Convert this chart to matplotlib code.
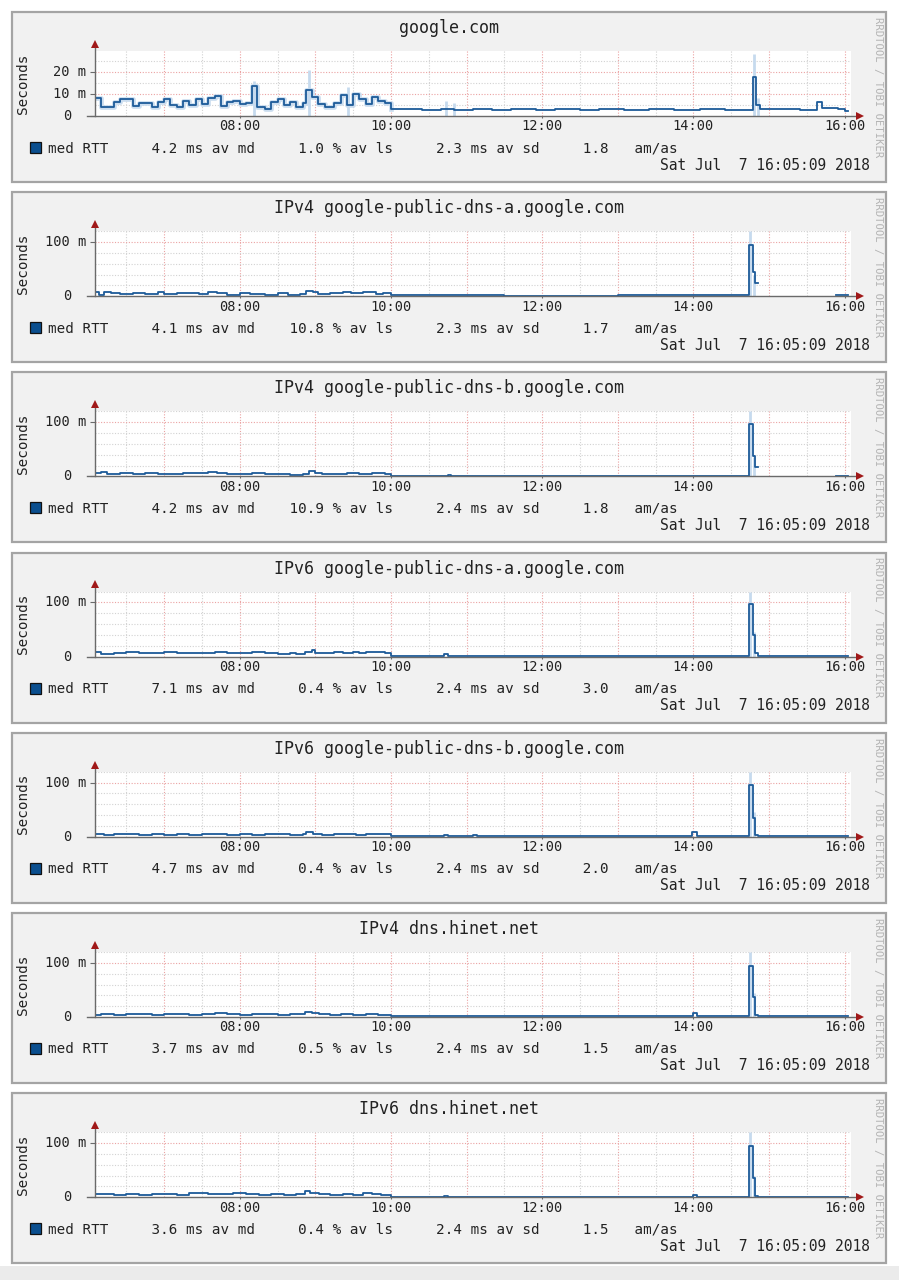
import matplotlib
matplotlib.use('Agg')
import matplotlib.pyplot as plt
from matplotlib.patches import Rectangle
from matplotlib.transforms import blended_transform_factory
import numpy as np

nan = float('nan')
W, H = 899, 1280
MONO = 'DejaVu Sans Mono'

titles = ["google.com",
          "IPv4 google-public-dns-a.google.com",
          "IPv4 google-public-dns-b.google.com",
          "IPv6 google-public-dns-a.google.com",
          "IPv6 google-public-dns-b.google.com",
          "IPv4 dns.hinet.net",
          "IPv6 dns.hinet.net"]

# legend statistics: av md (ms), av ls (%), av sd (ms), am/as
av_md = ["4.2", "4.1", "4.2", "7.1", "4.7", "3.7", "3.6"]
av_ls = ["1.0", "10.8", "10.9", "0.4", "0.4", "0.5", "0.4"]
av_sd = ["2.3", "2.3", "2.4", "2.4", "2.4", "2.4", "2.4"]
am_as = ["1.8", "1.7", "1.8", "3.0", "2.0", "1.5", "1.5"]

date_text = "Sat Jul  7 16:05:09 2018"
x_ticks = [8, 10, 12, 14, 16]
x_tick_labels = ["08:00", "10:00", "12:00", "14:00", "16:00"]
t_start, t_end = "06:05", "16:05"
t_last = "16:03"

# median RTT (ms), step changes: time -> value
p1_t = ["06:05", "06:10", "06:20", "06:25", "06:35", "06:40", "06:50", "06:55", "07:00", "07:05",
        "07:10", "07:15", "07:20", "07:25", "07:30", "07:35", "07:40", "07:45", "07:50", "07:55",
        "08:00", "08:05", "08:10", "08:14", "08:20", "08:25", "08:30", "08:35", "08:40", "08:45",
        "08:50", "08:53", "08:57", "09:02", "09:08", "09:15", "09:20", "09:25", "09:30", "09:35",
        "09:40", "09:45", "09:50", "09:55", "10:00", "10:25", "10:40", "10:50", "11:05", "11:20",
        "11:35", "11:55", "12:10", "12:30", "12:45", "13:05", "13:25", "13:45", "14:05", "14:25",
        "14:47", "14:50", "14:53", "15:10", "15:25", "15:38", "15:42", "15:55", "16:00"]
p1_v = [8.0, 4.0, 6.5, 7.5, 4.5, 6.0, 4.0, 6.5, 7.5, 5.0,
        4.0, 7.0, 5.0, 7.5, 5.5, 8.0, 9.0, 4.5, 6.5, 7.0,
        5.5, 6.0, 13.5, 4.0, 3.0, 6.5, 7.5, 5.0, 6.5, 4.0,
        6.0, 12.0, 8.5, 5.5, 4.0, 6.0, 9.5, 5.0, 10.0, 7.5,
        5.5, 8.5, 7.0, 6.0, 3.0, 2.8, 3.3, 2.9, 3.2, 2.8,
        3.1, 2.7, 3.0, 2.7, 3.1, 2.8, 3.0, 2.7, 3.0, 2.8,
        17.5, 5.0, 3.0, 3.2, 2.9, 6.5, 3.5, 3.0, 2.4]

p2_t = ["06:05", "06:08", "06:12", "06:18", "06:25", "06:35", "06:45", "06:55", "07:00", "07:10",
        "07:20", "07:28", "07:35", "07:42", "07:50", "08:00", "08:08", "08:20", "08:30", "08:38",
        "08:48", "08:53", "08:58", "09:02", "09:12", "09:22", "09:28", "09:38", "09:48", "09:54",
        "10:00", "11:30", "13:00", "14:44", "14:47", "14:49", "14:51", "15:53"]
p2_v = [7, 3, 7, 6, 4, 5, 4, 7, 4, 6,
        5, 4, 7, 5, 3, 6, 4, 3, 5, 3,
        4, 10, 7, 4, 6, 8, 5, 7, 4, 6,
        1.5, 1.2, 1.4, 95, 45, 25, nan, 1.5]

p3_t = ["06:05", "06:10", "06:15", "06:25", "06:35", "06:45", "06:55", "07:05", "07:15", "07:25",
        "07:35", "07:42", "07:50", "08:00", "08:10", "08:20", "08:30", "08:40", "08:50", "08:55",
        "09:00", "09:05", "09:15", "09:25", "09:35", "09:45", "09:55", "10:00", "10:45", "10:48",
        "14:44", "14:47", "14:49", "14:51", "15:53"]
p3_v = [6, 8, 5, 6, 4, 6, 5, 4, 6, 7,
        9, 6, 5, 4, 6, 5, 4, 3, 4, 10,
        7, 4, 5, 6, 4, 6, 5, 1.5, 3, 1.5,
        96, 37, 17, nan, 1.5]

p4_t = ["06:05", "06:10", "06:20", "06:30", "06:40", "06:50", "07:00", "07:10", "07:20", "07:30",
        "07:40", "07:50", "08:00", "08:10", "08:20", "08:30", "08:40", "08:45", "08:52", "08:57",
        "09:00", "09:05", "09:15", "09:22", "09:30", "09:35", "09:40", "09:48", "09:55", "10:00",
        "10:42", "10:45", "14:44", "14:47", "14:49", "14:51"]
p4_v = [8, 5, 7, 9, 7, 6, 8, 6, 7, 6,
        8, 7, 6, 8, 6, 5, 6, 5, 9, 12,
        7, 6, 8, 6, 9, 6, 8, 9, 7, 1.5,
        4, 1.5, 97, 40, 6, 1.5]

p5_t = ["06:05", "06:12", "06:20", "06:30", "06:40", "06:50", "07:00", "07:10", "07:20", "07:30",
        "07:40", "07:50", "08:00", "08:10", "08:20", "08:30", "08:40", "08:50", "08:53", "08:58",
        "09:05", "09:15", "09:25", "09:32", "09:40", "09:50", "10:00", "10:42", "10:45", "11:05",
        "11:08", "13:59", "14:03", "14:44", "14:47", "14:49", "14:51"]
p5_v = [5, 4, 6, 5, 4, 6, 4, 5, 4, 6,
        5, 4, 5, 4, 6, 5, 4, 5, 8, 6,
        4, 5, 6, 4, 6, 5, 1.5, 3, 1.5, 3,
        1.5, 8, 1.5, 95, 35, 4, 1.5]

p6_t = ["06:05", "06:10", "06:20", "06:30", "06:40", "06:50", "07:00", "07:10", "07:20", "07:30",
        "07:40", "07:50", "08:00", "08:10", "08:20", "08:30", "08:40", "08:52", "08:57", "09:03",
        "09:12", "09:20", "09:30", "09:40", "09:50", "10:00", "10:42", "10:45", "14:00", "14:03",
        "14:44", "14:47", "14:49", "14:51"]
p6_v = [4, 5, 4, 6, 5, 4, 5, 6, 4, 5,
        7, 5, 4, 6, 5, 4, 5, 10, 7, 5,
        4, 6, 4, 5, 4, 1.2, 2.5, 1.2, 7, 1.2,
        95, 37, 3, 1.2]

p7_t = ["06:05", "06:10", "06:20", "06:30", "06:40", "06:50", "07:00", "07:10", "07:20", "07:30",
        "07:35", "07:45", "07:55", "08:05", "08:15", "08:25", "08:35", "08:45", "08:52", "08:56",
        "09:03", "09:12", "09:22", "09:30", "09:38", "09:45", "09:52", "10:00", "10:42", "10:45",
        "14:00", "14:03", "14:44", "14:47", "14:49", "14:51"]
p7_v = [5, 6, 4, 5, 4, 6, 5, 4, 7, 8,
        6, 5, 7, 5, 4, 5, 4, 5, 12, 7,
        5, 4, 6, 4, 7, 5, 4, 1.2, 2, 1.2,
        4, 1.2, 95, 35, 3, 1.2]

# smoke (ping spread) peaks: time -> max value (ms)
p1_smoke_t = ["08:11", "08:55", "09:26", "10:44", "10:50", "14:48", "14:51"]
p1_smoke_v = [16, 21, 13, 7, 6, 28, 8]
spike_smoke_t = ["14:45", "14:48"]
p2_smoke_v = [120, 40]
p3_smoke_v = [120, 35]
p4_smoke_v = [120, 45]
p5_smoke_v = [120, 45]
p6_smoke_v = [120, 45]
p7_smoke_v = [120, 40]

ylims = [29.5, 120, 120, 120, 120, 120, 120]
y_major = [[10, 20], [100], [100], [100], [100], [100], [100]]
y_minor_step = [5, 20, 20, 20, 20, 20, 20]

series_t = [p1_t, p2_t, p3_t, p4_t, p5_t, p6_t, p7_t]
series_v = [p1_v, p2_v, p3_v, p4_v, p5_v, p6_v, p7_v]
smoke_t = [p1_smoke_t] + [spike_smoke_t] * 6
smoke_v = [p1_smoke_v, p2_smoke_v, p3_smoke_v, p4_smoke_v, p5_smoke_v, p6_smoke_v, p7_smoke_v]


def hrs(s):
    h, m = s.split(":")
    return int(h) + int(m) / 60.0


def fx(x):
    return x / W


def fy(y):
    return 1 - y / H


x0 = hrs(t_start) + 9 / 3600.0
x1 = hrs(t_end) + 9 / 3600.0

LINE = '#1d5b99'
SMOKE = '#c6daee'
RED_GRID = '#eba3a3'
GRAY_GRID = '#d2d2d2'
AXIS = '#6a6a6a'
ARROW = '#a01818'
TXT = '#222222'

fig = plt.figure(figsize=(W / 100, H / 100), dpi=100)
fig.patch.set_facecolor('white')
fig.add_artist(Rectangle((0, 0), 1, fy(1266), transform=fig.transFigure,
                         facecolor='#ebebeb', edgecolor='none', zorder=-5))

PL, PR = 95, 851
for k in range(7):
    T = 12 + 180.2 * k
    # panel background
    fig.add_artist(Rectangle((fx(12), fy(T + 170)), (886 - 12) / W, 170 / H,
                             transform=fig.transFigure, facecolor='#f1f1f1',
                             edgecolor='#a4a4a4', lw=1.6, zorder=-2))
    ax = fig.add_axes([fx(PL), fy(T + 104), (PR - PL) / W, 65 / H])
    ax.set_facecolor('white')
    for s in ax.spines.values():
        s.set_visible(False)
    ax.set_xlim(x0, x1)
    ax.set_ylim(0, ylims[k])

    # grid
    for hh in np.arange(6.5, 16.01, 0.5):
        major = abs(hh - round(hh)) < 1e-6
        ax.axvline(hh, color=RED_GRID if major else GRAY_GRID, lw=0.8,
                   ls=(0, (1, 1.5)), zorder=1)
    step = y_minor_step[k]
    for yv in np.arange(step, ylims[k] + 0.01, step):
        major = yv in y_major[k]
        ax.axhline(yv, color=RED_GRID if major else GRAY_GRID, lw=0.8,
                   ls=(0, (1, 1.5)), zorder=1)

    t = [hrs(s) for s in series_t[k]] + [hrs(t_last)]
    v = list(series_v[k]) + [series_v[k][-1]]
    t = np.array(t)
    v = np.array(v, dtype=float)

    # smoke
    if k == 0:
        m = t <= hrs("10:00")
        ax.step(t[m], v[m], where='post', color=SMOKE, lw=3.4, zorder=2, alpha=0.9)
    st = [hrs(s) for s in smoke_t[k]]
    sv = smoke_v[k]
    ax.vlines(st, 0, sv, color=SMOKE, lw=2.0, zorder=2)

    ax.step(t, v, where='post', color=LINE, lw=1.3, zorder=4)

    # axes lines & arrows
    ax.plot([0, 0], [0, 1.1], transform=ax.transAxes, color=AXIS, lw=1.0,
            clip_on=False, zorder=5)
    ax.plot([-8 / 756, 1.01], [0, 0], transform=ax.transAxes, color=AXIS, lw=1.0,
            clip_on=False, zorder=5)
    ax.plot([0], [1.11], marker='^', ms=5.5, color=ARROW, transform=ax.transAxes,
            clip_on=False, zorder=6, markeredgewidth=0)
    ax.plot([1.012], [0], marker='>', ms=5.5, color=ARROW, transform=ax.transAxes,
            clip_on=False, zorder=6, markeredgewidth=0)

    # ticks
    ax.set_xticks(x_ticks)
    ax.set_xticklabels(x_tick_labels, fontfamily=MONO, fontsize=9.8, color=TXT)
    ax.tick_params(axis='x', length=1.5, width=0.8, color=AXIS, pad=1.0)
    ax.set_yticks([0] + y_major[k])
    ax.tick_params(axis='y', length=3.5, width=0.8, color=AXIS, labelleft=False)
    tr = blended_transform_factory(ax.transAxes, ax.transData)
    for yv in [0] + y_major[k]:
        if yv == 0:
            ax.text(-(PL - 71) / 756, yv, "0", transform=tr, ha='right', va='center',
                    fontfamily=MONO, fontsize=9.8, color=TXT)
        else:
            ax.text(-(PL - 86) / 756, yv, f"{yv:g} m", transform=tr, ha='right',
                    va='center', fontfamily=MONO, fontsize=9.8, color=TXT)

    # texts
    fig.text(fx(449), fy(T + 16), titles[k], ha='center', va='center',
             fontfamily=MONO, fontsize=12, color=TXT)
    fig.text(fx(23), fy(T + 71.5), "Seconds", rotation=90, ha='center', va='center',
             fontfamily=MONO, fontsize=10.3, color=TXT)
    fig.text(fx(878), fy(T + 75), "RRDTOOL / TOBI OETIKER", rotation=270,
             ha='center', va='center', fontfamily=MONO, fontsize=7.6, color='#b4b4b4')
    fig.add_artist(Rectangle((fx(30), fy(T + 141)), 11 / W, 11 / H,
                             transform=fig.transFigure, facecolor='#0b4f8f',
                             edgecolor='#111111', lw=0.9, zorder=3))
    legend = (f"med RTT     {av_md[k]:>3} ms av md    {av_ls[k]:>4} % av ls"
              f"     {av_sd[k]} ms av sd    {am_as[k]:>4}   am/as")
    fig.text(fx(48), fy(T + 136), legend, ha='left', va='center',
             fontfamily=MONO, fontsize=10.3, color=TXT)
    fig.text(fx(870), fy(T + 153), date_text, ha='right', va='center',
             fontfamily=MONO, fontsize=10.5, color=TXT)

fig.savefig('out.png', dpi=100)
